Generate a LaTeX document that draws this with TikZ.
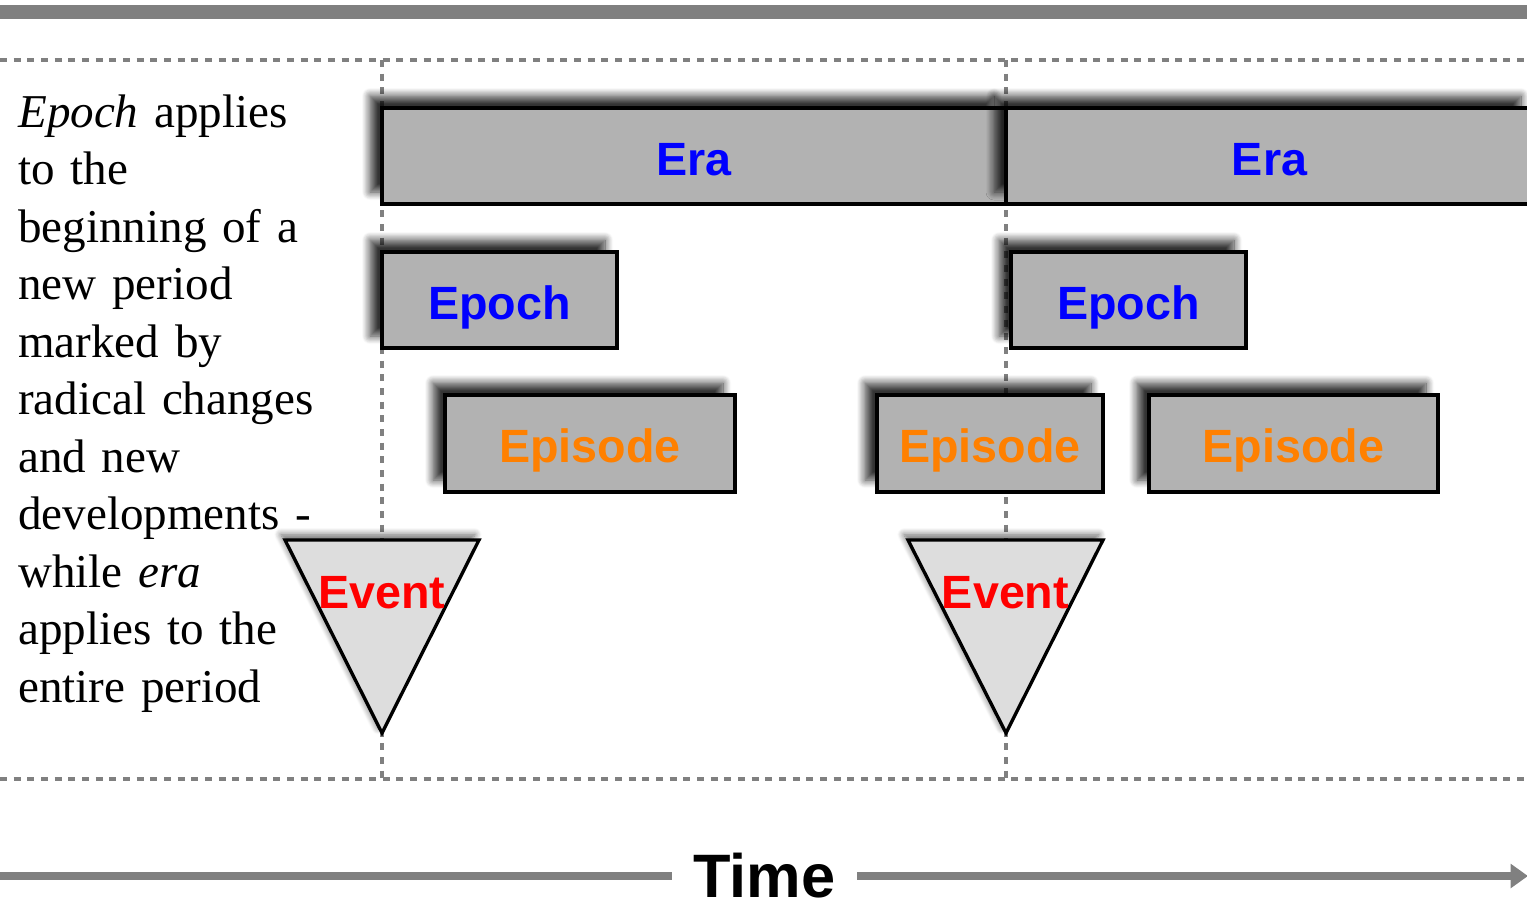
\documentclass[tikz,border=0pt]{standalone}
\usepackage{fontspec}
\setmainfont{Liberation Serif}
\newfontfamily\labelfont{Liberation Sans}
\usetikzlibrary{shadows.blur,arrows.meta}

\definecolor{rulegray}{HTML}{808080}
\definecolor{boxgray}{HTML}{B2B2B2}
\definecolor{trigray}{HTML}{DDDDDD}
\definecolor{eraBlue}{HTML}{0000FF}
\definecolor{epiOrange}{HTML}{FF8000}
\definecolor{evRed}{HTML}{FF0000}

\begin{document}
\begin{tikzpicture}[x=0.75pt,y=-0.75pt,
  guide/.style={draw=rulegray, line width=3pt, dash pattern=on 5.25pt off 5pt},
  heavyrule/.style={draw=rulegray, line width=10.5pt},
  timeline/.style={draw=rulegray, line width=6pt},
  labeltext/.style={font=\labelfont\bfseries\fontsize{35}{40}\selectfont},
  period/.style={labeltext, draw=black, line width=2.5pt, fill=boxgray,
    inner sep=0pt, minimum height=72pt, text height=29pt, text depth=0pt,
    blur shadow={shadow xshift=-9pt, shadow yshift=9pt,
      shadow blur radius=6pt, shadow blur steps=10, shadow opacity=80}},
  eventmark/.style={draw=black, line width=2.5pt, fill=trigray, line join=miter,
    blur shadow={shadow xshift=-3pt, shadow yshift=4pt,
      shadow blur radius=5pt, shadow blur steps=10, shadow opacity=60}},
]
\useasboundingbox (0,0) rectangle (1527,904);
\clip (0,0) rectangle (1527,904);

% heavy rule along the top
\coordinate (rtl) at (0,12);
\coordinate (rtr) at (1527,12);
\draw[heavyrule] (rtl) -- (rtr);

% dashed frame and the two period boundaries
\coordinate (ftl) at (0,60);   \coordinate (ftr) at (1527,60);
\coordinate (fbl) at (0,779);  \coordinate (fbr) at (1527,779);
\coordinate (v1t) at (382,60); \coordinate (v1b) at (382,779);
\coordinate (v2t) at (1006,60);\coordinate (v2b) at (1006,779);
\draw[guide] (ftl) -- (ftr);
\draw[guide] (fbl) -- (fbr);
\draw[guide] (v1t) -- (v1b);
\draw[guide] (v2t) -- (v2b);

% eras
\node[period, text=eraBlue, minimum width=468pt] (era1) at (694,156) {Era};
\node[period, text=eraBlue, minimum width=395.25pt] (era2) at (1269.5,156) {Era};

% epochs
\node[period, text=eraBlue, minimum width=176.25pt] (epoch1) at (499.5,300) {Epoch};
\node[period, text=eraBlue, minimum width=176.25pt] (epoch2) at (1128.5,300) {Epoch};

% episodes
\node[period, text=epiOrange, minimum width=217.5pt, minimum height=72.75pt] (episode1) at (590,443.5) {Episode};
\node[period, text=epiOrange, minimum width=169.5pt, minimum height=72.75pt] (episode2) at (990,443.5) {Episode};
\node[period, text=epiOrange, minimum width=216.75pt, minimum height=72.75pt] (episode3) at (1293.5,443.5) {Episode};

% events
\coordinate (e1a) at (285,540); \coordinate (e1b) at (479,540); \coordinate (e1c) at (382,733);
\coordinate (e2a) at (908,540); \coordinate (e2b) at (1103,540); \coordinate (e2c) at (1006,733);
\path[eventmark] (e1a) -- (e1b) -- (e1c) -- cycle;
\path[eventmark] (e2a) -- (e2b) -- (e2c) -- cycle;
\node[labeltext, text=evRed, anchor=base, inner sep=0pt] (event1) at (382,608) {Event};
\node[labeltext, text=evRed, anchor=base, inner sep=0pt] (event2) at (1005.5,608) {Event};

% explanatory note
\node[anchor=base west, inner sep=0pt, align=left, text width=240pt,
      font=\fontsize{35.3}{43.125}\selectfont] (note) at (18,127)
  {\textit{Epoch} applies\\ to the\\ beginning of a\\ new period\\ marked by\\
   radical changes\\ and new\\ developments -\\ while \textit{era}\\
   applies to the\\ entire period};

% time axis
\node[font=\labelfont\bfseries\fontsize{46}{50}\selectfont, anchor=base,
      inner xsep=16pt, inner ysep=0pt] (time) at (764.5,897) {Time};
\coordinate (tstart) at (0,876);
\coordinate (tend) at (1528,876);
\draw[timeline] (tstart) -- (tstart -| time.west);
\draw[timeline, -{Triangle[length=13pt,width=17.5pt]}] (tstart -| time.east) -- (tend);
\end{tikzpicture}
\end{document}
